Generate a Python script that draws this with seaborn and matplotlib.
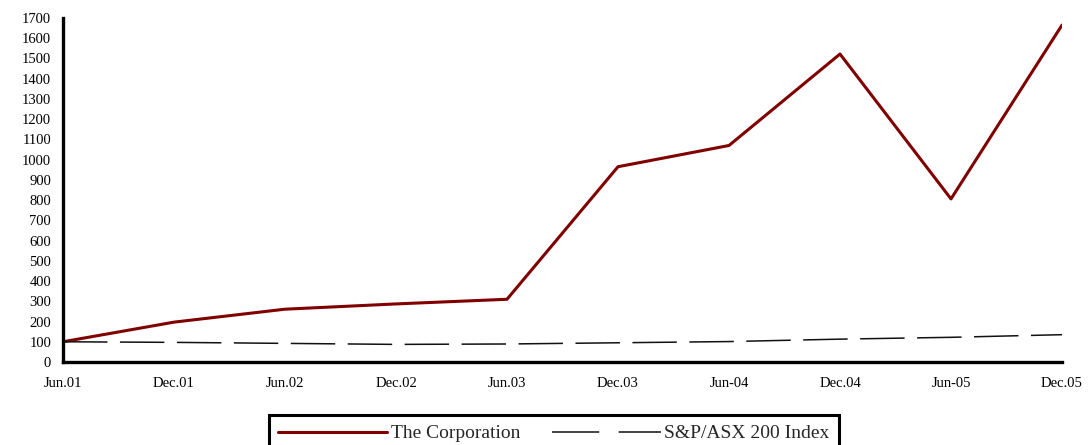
import matplotlib
matplotlib.use("Agg")
import matplotlib.pyplot as plt
import seaborn as sns
import pandas as pd
from matplotlib.lines import Line2D

periods = ["Jun.01", "Dec.01", "Jun.02", "Dec.02", "Jun.03",
           "Dec.03", "Jun-04", "Dec.04", "Jun-05", "Dec.05"]
corporation = [100, 197, 261, 287, 310, 965, 1070, 1522, 806, 1665]
asx200 = [100, 97, 92, 87, 89, 95, 101, 113, 122, 135]
series_names = ["The Corporation", "S&P/ASX 200 Index"]
y_ticks = list(range(0, 1701, 100))

sns.set_style("white")
plt.rcParams["font.family"] = ["Liberation Serif", "DejaVu Serif"]
plt.rcParams["lines.scale_dashes"] = False

df = pd.DataFrame({
    "pos": list(range(len(periods))) * 2,
    "value": corporation + asx200,
    "series": [series_names[0]] * len(periods) + [series_names[1]] * len(periods),
})

fig = plt.figure(figsize=(10.88, 4.45), dpi=100)
ax = fig.add_axes([63 / 1088, 1 - 362 / 445, (1062 - 63) / 1088, (362 - 18) / 445])

sns.lineplot(
    data=df, x="pos", y="value", hue="series", style="series",
    palette={series_names[0]: "#800000", series_names[1]: "#111111"},
    dashes={series_names[0]: "", series_names[1]: (32, 9)},
    ax=ax, legend=False,
)
lines = ax.get_lines()
lines[0].set_linewidth(2.2)
lines[1].set_linewidth(1.1)

ax.set_xlim(0, len(periods) - 1)
ax.set_ylim(0, 1700)
ax.set_xticks(range(len(periods)))
ax.set_xticklabels(periods, fontsize=10.5)
ax.set_yticks(y_ticks)
ax.set_yticklabels([str(v) for v in y_ticks], fontsize=10.5)
ax.set_xlabel("")
ax.set_ylabel("")

for side in ["top", "right"]:
    ax.spines[side].set_visible(False)
for side in ["left", "bottom"]:
    ax.spines[side].set_color("black")
    ax.spines[side].set_linewidth(2.4)
ax.tick_params(axis="both", direction="inout", length=9, width=2, colors="black",
               labelcolor="black")
ax.tick_params(axis="x", pad=6)
ax.tick_params(axis="y", pad=4)

handles = [
    Line2D([], [], color="#800000", lw=2.2),
    Line2D([], [], color="#111111", lw=1.1, dashes=(34, 14)),
]
leg = fig.legend(handles, series_names, loc="upper center",
                 bbox_to_anchor=(554 / 1088, 1 - 415 / 445), ncol=2,
                 fontsize=14, frameon=True, fancybox=False, handlelength=5.6,
                 handletextpad=0.2, columnspacing=1.6, borderpad=0.5,
                 borderaxespad=0)
frame = leg.get_frame()
frame.set_edgecolor("black")
frame.set_linewidth(2.2)
frame.set_facecolor("white")
frame.set_alpha(1)

fig.savefig("out.png", dpi=100)
